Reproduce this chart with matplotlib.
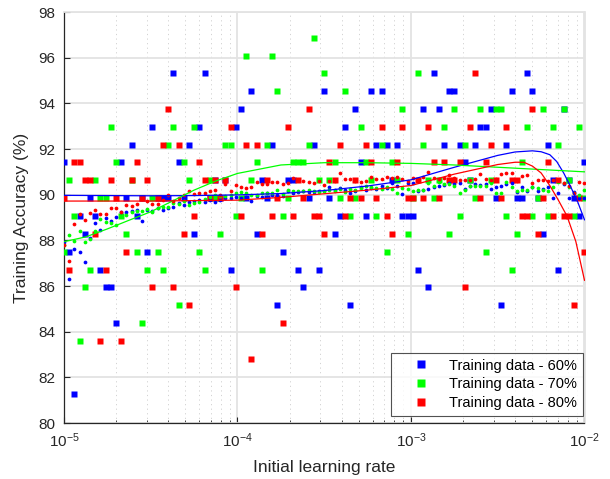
import numpy as np
import matplotlib
matplotlib.use("Agg")
import matplotlib.pyplot as plt
from matplotlib.ticker import LogLocator, NullFormatter, LogFormatterMathtext, MultipleLocator
from matplotlib.lines import Line2D

plt.rcParams['font.family'] = ['Liberation Sans', 'DejaVu Sans']
plt.rcParams['mathtext.fontset'] = 'custom'
plt.rcParams['mathtext.rm'] = 'Liberation Sans'
plt.rcParams['mathtext.it'] = 'Liberation Sans:italic'
plt.rcParams['mathtext.default'] = 'regular'

# Learning-rate sweep: 101 log-spaced values between 1e-5 and 1e-2
lr_exp_min, lr_exp_max, n_runs = -5, -2, 101
learning_rate = np.logspace(lr_exp_min, lr_exp_max, n_runs)

# Training accuracy (%) of each run
acc_60 = [91.41, 87.5, 81.25, 89.06, 88.28, 89.84, 89.06, 86.72, 85.94, 85.94,
          84.38, 91.41, 89.84, 92.19, 89.06, 89.84, 87.5, 92.97, 89.84, 89.84,
          89.84, 95.31, 91.41, 89.84, 92.19, 88.28, 92.97, 95.31, 89.84, 90.625,
          89.84, 90.625, 86.72, 92.97, 93.75, 89.84, 94.53, 88.28, 90.625, 89.84,
          92.19, 85.16, 87.5, 90.625, 90.625, 86.72, 85.94, 89.84, 92.19, 86.72,
          94.53, 89.84, 88.28, 89.06, 92.97, 85.16, 93.75, 91.41, 89.06, 94.53,
          92.19, 94.53, 92.19, 90.625, 92.19, 89.06, 89.06, 89.06, 86.72, 93.75,
          85.94, 95.31, 93.75, 92.19, 94.53, 94.53, 92.19, 91.41, 90.625, 92.19,
          92.97, 92.97, 93.75, 89.84, 85.16, 92.19, 94.53, 89.84, 89.84, 95.31,
          94.53, 89.84, 88.28, 92.19, 90.625, 86.72, 93.75, 90.625, 89.84, 89.06,
          91.41]

acc_70 = [87.5, 90.625, 89.06, 83.59, 85.94, 86.72, 90.625, 89.84, 89.84, 92.97,
          91.41, 89.06, 88.28, 90.625, 87.5, 84.38, 86.72, 89.84, 87.5, 86.72,
          92.19, 92.97, 85.16, 91.41, 90.625, 92.97, 87.5, 86.72, 90.625, 89.84,
          88.28, 92.19, 92.19, 89.06, 89.84, 96.09, 90.625, 91.41, 86.72, 92.19,
          96.09, 94.53, 89.06, 89.84, 91.41, 91.41, 91.41, 92.19, 96.875, 90.625,
          95.31, 90.625, 91.41, 89.84, 94.53, 89.06, 89.84, 92.97, 91.41, 90.625,
          89.06, 92.19, 87.5, 91.41, 90.625, 93.75, 88.28, 89.84, 95.31, 92.19,
          90.625, 89.84, 90.625, 92.97, 88.28, 93.75, 89.06, 92.19, 90.625, 89.84,
          93.75, 87.5, 90.625, 93.75, 93.75, 89.06, 86.72, 88.28, 91.41, 92.97,
          89.06, 89.84, 93.75, 89.06, 92.97, 92.19, 93.75, 90.625, 89.06, 92.97,
          89.84]

acc_80 = [89.84, 86.72, 91.41, 91.41, 90.625, 90.625, 88.28, 83.59, 86.72, 90.625,
          89.84, 83.59, 87.5, 90.625, 91.41, 89.84, 90.625, 85.94, 89.84, 92.19,
          93.75, 85.94, 92.19, 88.28, 85.16, 89.06, 91.41, 90.625, 89.84, 90.625,
          89.84, 90.625, 92.97, 85.94, 89.06, 92.19, 82.81, 92.19, 88.28, 90.625,
          89.06, 89.84, 84.38, 92.97, 89.06, 90.625, 89.84, 93.75, 89.06, 89.06,
          88.28, 91.41, 90.625, 92.19, 89.06, 89.84, 90.625, 89.84, 92.19, 91.41,
          89.84, 92.97, 89.06, 88.28, 91.41, 92.97, 89.84, 89.84, 90.625, 89.84,
          92.97, 91.41, 89.84, 91.41, 90.625, 90.625, 91.41, 85.94, 92.97, 95.31,
          89.84, 91.41, 92.19, 90.625, 89.84, 92.97, 90.625, 90.625, 89.06, 89.06,
          93.75, 88.28, 89.84, 91.41, 89.06, 90.625, 89.06, 89.06, 85.16, 89.84,
          87.5]

# Smoothed accuracy at each learning rate
smooth_60 = [87.94, 86.32, 87.63, 87.48, 87.05, 88.1, 88.75, 88.45, 88.97, 88.85,
             89.02, 89.23, 89.26, 89.30, 89.33, 88.86, 89.33, 89.30, 89.40, 89.35,
             89.40, 89.45, 89.62, 89.56, 89.69, 89.72, 89.77, 89.7, 89.77, 89.68,
             89.77, 89.84, 89.86, 89.91, 89.85, 89.9, 89.74, 89.95, 89.91, 90.06,
             90.0, 90.0, 89.95, 90.17, 90.06, 90.1, 90.17, 90.12, 90.12, 90.17,
             90.17, 90.35, 90.2, 90.3, 90.2, 90.09, 90.17, 90.35, 90.2, 90.3,
             90.27, 90.38, 90.3, 90.5, 90.38, 90.02, 90.5, 90.5, 90.18, 90.2,
             90.23, 90.35, 90.4, 90.42, 90.5, 90.45, 90.52, 90.24, 90.4, 90.45,
             90.42, 90.45, 90.23, 90.35, 90.38, 90.45, 90.5, 90.13, 90.32, 90.18,
             90.35, 90.18, 90.25, 90.35, 89.84, 90.06, 90.45, 89.84, 90.13, 89.84,
             89.84]

smooth_70 = [87.8, 88.23, 87.97, 88.41, 87.94, 88.05, 88.41, 88.92, 88.79, 88.75,
             88.67, 89.08, 89.12, 89.26, 89.30, 89.28, 89.36, 89.23, 89.42, 89.45,
             89.47, 89.62, 89.6, 89.72, 89.55, 89.62, 89.68, 89.8, 89.89, 90.0,
             89.94, 89.95, 90.0, 90.06, 90.1, 90.06, 90.0, 89.98, 90.08, 90.06,
             90.08, 90.2, 90.04, 90.2, 90.14, 90.17, 90.14, 90.21, 90.15, 90.1,
             90.14, 90.21, 90.14, 90.24, 90.1, 90.24, 90.21, 90.28, 90.38, 90.35,
             90.3, 90.24, 90.35, 90.24, 90.08, 90.28, 90.24, 90.18, 90.2, 90.2,
             90.5, 90.4, 90.57, 90.45, 90.45, 90.4, 90.09, 90.2, 90.38, 90.38,
             90.38, 90.4, 90.5, 90.06, 90.09, 90.57, 90.35, 90.18, 90.2, 90.22,
             90.35, 90.3, 90.2, 90.18, 90.35, 90.57, 90.5, 90.35, 90.06, 89.99,
             90.2]

smooth_80 = [87.8, 87.1, 88.73, 89.14, 88.89, 89.21, 89.32, 89.14, 89.14, 89.40,
             89.40, 89.26, 89.56, 89.52, 89.59, 89.82, 89.74, 89.59, 89.57, 89.75,
             89.99, 89.74, 89.84, 89.99, 90.18, 90.03, 90.07, 90.06, 90.18, 90.2,
             89.99, 90.45, 90.15, 90.43, 90.35, 90.28, 90.32, 90.54, 90.45, 90.47,
             90.54, 90.54, 90.47, 90.5, 90.72, 90.64, 90.61, 90.57, 90.50, 90.61,
             90.42, 90.61, 90.61, 90.93, 90.69, 90.69, 90.6, 90.54, 90.61, 90.76,
             90.69, 90.69, 90.79, 90.72, 90.79, 90.67, 90.61, 90.72, 90.7, 90.76,
             90.98, 90.72, 90.68, 90.74, 90.86, 90.72, 90.65, 90.65, 90.65, 90.7,
             90.9, 90.68, 90.65, 90.68, 90.89, 90.93, 90.93, 90.61, 90.82, 90.86,
             90.5, 90.64, 90.64, 90.61, 90.64, 90.62, 90.5, 90.4, 90.09, 90.57,
             90.52]

# Fitted trend curves: log10(learning rate) and accuracy (%)
fit_exp_60 = [-5.0, -4.75, -4.5, -4.25, -4.0, -3.75, -3.5, -3.25, -3.0, -2.75,
              -2.5, -2.4, -2.3, -2.25, -2.2, -2.16, -2.12, -2.08, -2.04, -2.0]
fit_acc_60 = [89.97, 89.96, 89.95, 89.96, 89.99, 90.05, 90.18, 90.38, 90.65, 91.2,
              91.72, 91.87, 91.92, 91.88, 91.75, 91.45, 90.95, 90.35, 89.7, 88.9]

fit_exp_70 = [-5.0, -4.875, -4.75, -4.625, -4.5, -4.375, -4.25, -4.125, -4.0,
              -3.75, -3.5, -3.25, -3.0, -2.75, -2.5, -2.25, -2.0]
fit_acc_70 = [87.94, 88.15, 88.5, 88.88, 89.25, 89.72, 90.2, 90.6, 90.93,
              91.3, 91.4, 91.4, 91.37, 91.3, 91.2, 91.1, 91.0]

fit_exp_80 = [-5.0, -4.5, -4.0, -3.75, -3.5, -3.25, -3.0, -2.75, -2.5, -2.4,
              -2.35, -2.3, -2.25, -2.2, -2.15, -2.1, -2.05, -2.0]
fit_acc_80 = [89.72, 89.72, 89.76, 89.88, 90.04, 90.2, 90.4, 90.9, 91.32, 91.42,
              91.42, 91.25, 90.95, 90.4, 89.75, 89.05, 87.95, 86.25]

labels = ['Training data - 60%', 'Training data - 70%', 'Training data - 80%']
colors = ['#0000ff', '#00ff00', '#ff0000']

fig = plt.figure(figsize=(6.1, 4.79), dpi=100)
ax = fig.add_axes([64 / 610, 56 / 479, 520.5 / 610, 411 / 479])
ax.set_xscale('log')

raw = [acc_60, acc_70, acc_80]
smooth = [smooth_60, smooth_70, smooth_80]
fits = [(fit_exp_60, fit_acc_60), (fit_exp_70, fit_acc_70), (fit_exp_80, fit_acc_80)]

for acc, col in zip(raw, colors):
    ax.plot(learning_rate, acc, 's', ms=4.0, color=col, mec='none', zorder=3)
for sm, col in zip(smooth, colors):
    ax.plot(learning_rate, sm, 'o', ms=2.7, color=col, mec='none', zorder=4)
for (fe, fa), col in zip(fits, colors):
    ax.plot(10.0 ** np.asarray(fe), fa, '-', color=col, lw=0.9, zorder=5)

ax.set_xlim(1e-5, 1e-2)
ax.set_ylim(80, 98)
ax.yaxis.set_major_locator(MultipleLocator(2))
ax.xaxis.set_major_locator(LogLocator(base=10, numticks=10))
ax.xaxis.set_major_formatter(LogFormatterMathtext())
ax.xaxis.set_minor_locator(LogLocator(base=10, subs=np.arange(2, 10), numticks=20))
ax.xaxis.set_minor_formatter(NullFormatter())

ax.set_axisbelow(True)
ax.grid(True, which='major', color='#e3e3e3', lw=1.3, ls='-')
ax.grid(True, which='minor', axis='x', color='#d2d2d2', lw=0.7, ls=(0, (1.2, 3.5)))

for side in ['left', 'bottom']:
    ax.spines[side].set_color('#262626')
    ax.spines[side].set_linewidth(0.9)
for side in ['top', 'right']:
    ax.spines[side].set_color('#e3e3e3')
    ax.spines[side].set_linewidth(1.3)

ax.tick_params(which='both', direction='in', colors='#262626', labelsize=11,
               top=False, right=False)
ax.tick_params(which='major', length=4.5, width=0.8, pad=6)
ax.tick_params(which='minor', length=2.5, width=0.6)

ax.set_xlabel('Initial learning rate', fontsize=12.5, color='#262626', labelpad=7)
ax.set_ylabel('Training Accuracy (%)', fontsize=12.5, color='#262626', labelpad=7)

handles = [Line2D([], [], ls='none', marker='s', ms=6, color=c, mec='none') for c in colors]
leg = ax.legend(handles, labels, loc='lower right', bbox_to_anchor=(0.997, 0.017),
                borderaxespad=0, fontsize=10.5, frameon=True, fancybox=False,
                edgecolor='#262626', handlelength=3.3, handletextpad=0.3,
                labelspacing=0.33, borderpad=0.4)
leg.get_frame().set_linewidth(0.8)
leg.set_zorder(10)

fig.savefig('out.png', dpi=100)
